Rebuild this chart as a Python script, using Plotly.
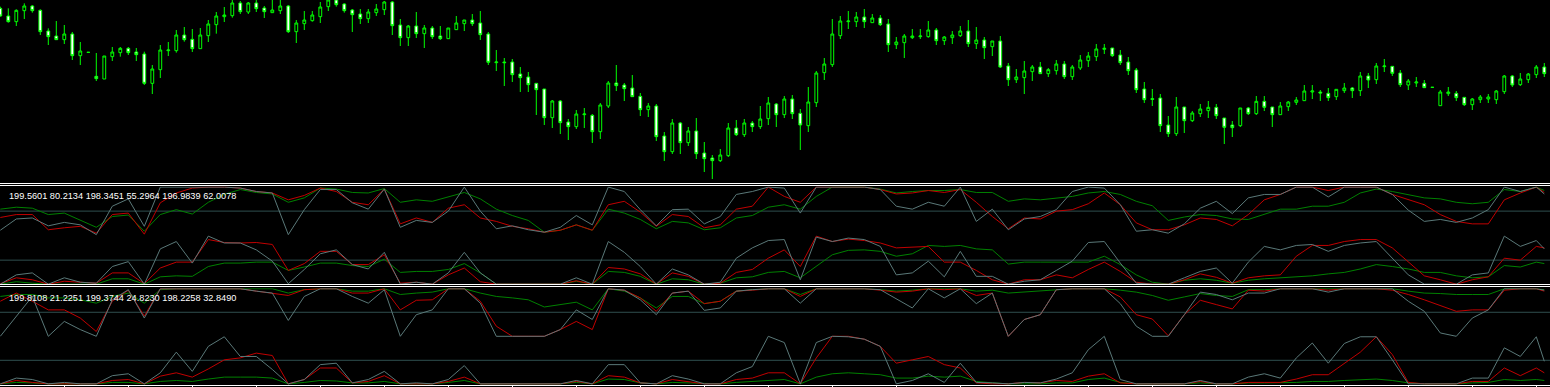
import plotly.graph_objects as go

# ---------------- main chart: candles (index -> OHLC) ----------------
candle_idx = list(range(194))
open_p = [1975,1952,1935,1968,1982,1969,1907,1892,1881,1898,
          1833,1843,1771,1763,1830,1842,1855,1844,1838,1750,
          1791,1848,1848,1895,1882,1854,1893,1926,1950,1953,
          1991,1964,1991,1976,1962,1968,1982,1905,1929,1938,
          1950,1980,2000,1988,1970,1958,1944,1962,1971,1994,
          1925,1887,1922,1899,1916,1892,1884,1911,1929,1940,
          1931,1898,1812,1814,1814,1778,1769,1750,1733,1647,
          1697,1634,1620,1656,1654,1605,1682,1751,1745,1736,
          1711,1671,1682,1592,1545,1631,1572,1607,1541,1526,
          1518,1533,1616,1596,1631,1620,1644,1688,1656,1703,
          1660,1623,1692,1782,1806,1893,1935,1935,1949,1932,
          1946,1928,1866,1872,1887,1890,1890,1910,1878,1887,
          1893,1907,1869,1880,1860,1877,1802,1761,1767,1785,
          1799,1779,1788,1808,1770,1796,1818,1830,1852,1856,
          1835,1814,1790,1733,1704,1706,1625,1599,1679,1638,
          1659,1668,1678,1646,1625,1623,1676,1659,1696,1679,
          1656,1680,1693,1698,1724,1724,1720,1710,1728,1736,
          1728,1772,1761,1800,1801,1781,1745,1751,1750,1738,
          1683,1719,1720,1708,1686,1701,1703,1701,1725,1772,
          1746,1761,1776,1799]
high_p = [1980,1975,1972,1990,1985,1972,1915,1937,1925,1904,
          1874,1844,1841,1832,1859,1859,1859,1856,1845,1805,
          1865,1874,1910,1919,1913,1916,1940,1964,1979,2000,
          1997,1994,2000,1982,2000,2000,1985,1940,1967,1967,
          1994,2000,2000,1990,1973,1973,1973,1988,1997,1997,
          1943,1925,1964,1925,1922,1922,1916,1952,1940,1958,
          1967,1904,1850,1826,1823,1799,1784,1751,1733,1700,
          1700,1643,1670,1676,1658,1691,1757,1805,1751,1775,
          1721,1691,1688,1604,1643,1634,1619,1646,1574,1535,
          1553,1631,1640,1643,1637,1682,1709,1691,1712,1715,
          1673,1739,1787,1826,1943,1952,1967,1964,1973,1958,
          1955,1943,1889,1898,1913,1913,1937,1916,1892,1907,
          1922,1940,1919,1889,1877,1892,1811,1793,1817,1805,
          1814,1796,1820,1817,1805,1835,1844,1868,1868,1856,
          1850,1829,1796,1754,1733,1718,1652,1709,1679,1667,
          1688,1697,1688,1646,1637,1676,1679,1712,1712,1679,
          1694,1697,1709,1745,1745,1730,1736,1733,1751,1739,
          1784,1781,1811,1823,1802,1790,1763,1769,1760,1738,
          1730,1739,1727,1709,1706,1715,1718,1730,1775,1775,
          1781,1781,1805,1811]
low_p = [1950,1932,1922,1943,1962,1895,1865,1880,1868,1820,
         1805,1842,1757,1763,1817,1830,1835,1817,1745,1718,
         1766,1832,1842,1875,1844,1854,1874,1899,1934,1947,
         1958,1958,1964,1946,1961,1958,1901,1871,1910,1935,
         1931,1967,1980,1962,1904,1928,1931,1952,1955,1895,
         1862,1862,1886,1856,1883,1880,1883,1910,1907,1922,
         1880,1805,1787,1742,1754,1724,1724,1655,1625,1616,
         1598,1580,1613,1616,1571,1583,1676,1727,1697,1709,
         1652,1649,1577,1517,1538,1538,1562,1523,1484,1463,
         1514,1529,1592,1589,1604,1613,1625,1619,1646,1643,
         1550,1604,1679,1760,1799,1883,1913,1919,1916,1931,
         1922,1844,1853,1826,1883,1883,1887,1865,1865,1868,
         1889,1859,1853,1823,1832,1796,1742,1751,1718,1757,
         1778,1769,1776,1763,1760,1790,1799,1817,1838,1829,
         1805,1775,1721,1691,1682,1604,1589,1592,1601,1634,
         1649,1646,1643,1568,1589,1619,1655,1655,1667,1619,
         1655,1667,1685,1697,1703,1697,1697,1700,1721,1706,
         1712,1736,1748,1784,1772,1739,1730,1739,1736,1738,
         1682,1712,1697,1682,1670,1691,1691,1688,1718,1739,
         1742,1751,1766,1769]
close_p = [1952,1935,1969,1982,1968,1905,1890,1881,1898,1833,
           1847,1843,1764,1832,1844,1855,1842,1836,1750,1793,
           1850,1850,1895,1881,1854,1895,1928,1952,1955,1991,
           1965,1991,1974,1965,1970,1982,1905,1931,1940,1955,
           1979,2000,1986,1968,1956,1944,1964,1973,1994,1923,
           1887,1922,1899,1916,1890,1884,1916,1931,1940,1929,
           1896,1813,1814,1812,1776,1767,1746,1731,1647,1697,
           1632,1620,1658,1658,1605,1685,1751,1743,1734,1710,
           1671,1682,1590,1545,1631,1572,1607,1539,1524,1518,
           1535,1616,1596,1631,1620,1643,1691,1656,1703,1659,
           1625,1694,1781,1808,1898,1937,1937,1949,1935,1946,
           1926,1866,1874,1892,1892,1892,1910,1878,1889,1895,
           1907,1869,1880,1857,1877,1799,1761,1769,1787,1799,
           1779,1791,1808,1770,1799,1820,1832,1853,1855,1833,
           1812,1788,1731,1701,1702,1623,1599,1679,1638,1661,
           1673,1678,1653,1618,1617,1676,1659,1696,1678,1656,
           1682,1694,1700,1727,1727,1721,1707,1732,1736,1728,
           1772,1760,1802,1802,1780,1746,1757,1754,1737,1738,
           1724,1724,1707,1686,1703,1709,1709,1727,1772,1745,
           1763,1778,1799,1779]

# ---------------- indicator panes (bar index -> value, 0..200 scale) ----------------
line_idx = list(range(0, 193, 2)) + [193]

p1_grey_upper = [111,134,136,120,127,122,102,160,175,119,199,199,199,199,199,197,190,187,102,153,194,194,167,154,195,
                 117,131,127,150,199,150,114,120,112,107,117,141,122,199,190,153,120,153,154,124,139,184,190,199,
                 197,146,199,199,199,199,194,160,154,168,160,199,129,154,112,134,139,153,190,199,197,163,109,112,
                 105,124,156,170,145,177,184,184,199,199,179,199,199,199,184,152,129,133,127,136,153,199,190,199,185]
p1_red_upper = [137,143,143,112,116,119,105,143,146,103,167,187,197,199,199,197,190,187,173,182,197,190,168,163,195,
                124,136,127,156,163,136,129,119,114,107,111,122,111,163,170,148,119,143,139,116,122,154,160,199,
                180,168,199,199,199,199,194,185,187,192,188,194,168,139,114,136,134,150,153,165,187,163,126,112,
                112,122,136,133,120,143,173,184,199,199,192,199,199,199,184,173,163,143,129,124,124,173,187,199,188]
p1_green_upper = [154,158,156,143,146,131,117,139,142,109,143,153,144,168,184,194,188,185,168,177,197,195,188,187,196,
                  168,173,170,179,188,175,154,141,131,107,111,122,111,154,146,133,114,129,126,112,116,136,141,158,
                  163,154,180,199,199,199,195,187,190,192,192,194,188,188,170,175,173,177,180,187,190,184,170,161,
                  131,138,143,141,134,133,143,154,154,160,160,168,187,195,190,184,177,175,168,165,168,194,190,199,192]
p1_grey_lower = [1,20,24,1,14,5,3,37,47,1,73,88,44,99,85,85,71,48,2,31,63,71,41,32,66,
                 1,5,1,24,66,24,1,1,1,1,1,14,1,88,66,37,1,32,20,1,5,54,75,90,
                 92,10,97,88,95,92,78,20,24,48,16,68,17,17,1,7,10,29,48,86,88,44,3,1,
                 1,14,27,34,3,46,78,71,80,82,68,80,85,88,54,20,1,1,1,20,24,99,78,90,73]
p1_red_lower = [2,14,10,1,7,5,3,24,24,2,34,46,46,92,86,85,86,82,29,43,68,68,41,41,61,
                3,5,1,20,34,6,1,1,1,1,1,8,1,35,32,22,1,24,17,1,3,25,31,54,
                71,37,99,88,93,90,85,75,77,78,46,46,29,10,1,10,10,20,14,31,46,27,5,1,
                1,10,22,15,3,14,18,20,58,80,80,88,92,92,75,46,18,10,1,10,16,54,50,78,75]
p1_green_lower = [1,6,3,1,1,1,1,12,12,1,16,18,17,37,44,44,46,46,29,36,44,44,39,37,52,
                  25,27,27,31,43,24,1,1,1,1,1,7,1,27,25,17,1,12,10,1,3,14,16,25,
                  27,14,37,61,70,71,68,58,63,80,78,80,73,71,42,46,46,46,46,46,58,41,20,5,
                  1,9,12,9,3,9,12,14,17,18,22,25,32,41,37,32,25,25,18,14,16,39,36,46,43]

p2_grey_upper = [100,142,183,100,131,114,100,176,197,138,199,199,199,199,199,199,194,190,133,183,199,199,183,169,197,
                 100,145,155,199,199,169,100,100,100,100,114,155,135,199,196,176,145,190,194,154,159,194,197,199,
                 199,169,199,199,199,199,197,178,159,199,180,199,168,190,100,135,145,197,199,199,199,168,121,100,
                 100,145,192,187,176,190,190,199,199,199,192,199,199,199,199,173,152,107,100,138,155,199,199,199,196]
p2_red_upper = [173,190,173,155,155,138,110,173,196,142,199,199,199,199,199,199,194,190,185,197,199,199,190,190,199,
                155,175,176,199,199,173,121,100,100,100,114,131,114,199,196,180,152,190,194,168,173,194,196,199,
                199,183,199,199,199,199,196,192,194,199,197,199,185,190,100,135,145,197,199,199,199,182,145,136,
                101,145,175,166,157,196,194,199,199,199,196,199,199,199,196,187,176,164,152,155,155,196,199,199,194]
p2_green_upper = [183,187,187,180,180,176,169,183,190,169,197,199,199,199,199,199,199,199,190,197,199,199,194,194,199,
                  187,190,192,199,199,190,183,180,176,161,166,171,155,199,194,180,159,183,183,168,173,194,197,199,
                  199,187,199,199,199,199,197,194,196,199,199,199,194,196,190,192,194,197,199,199,199,196,192,185,
                  175,182,189,185,183,197,197,199,199,199,199,199,199,199,199,194,190,189,187,187,187,199,199,199,197]
p2_grey_lower = [1,13,10,1,4,1,1,18,22,1,24,67,27,79,99,58,58,31,1,10,41,44,3,10,27,
                 1,3,1,10,39,1,1,1,1,1,1,8,1,41,41,3,1,18,11,1,1,24,37,100,
                 87,1,87,100,99,94,79,1,8,22,4,44,4,3,1,4,3,11,24,72,100,10,1,1,
                 1,1,8,1,1,15,22,13,55,86,44,85,99,99,51,1,1,1,1,13,13,76,58,99,48]
p2_red_lower = [1,8,4,1,1,1,1,8,10,1,17,24,15,32,51,55,65,60,1,10,34,34,3,6,18,
                1,1,1,6,15,1,1,1,1,1,1,6,1,18,15,3,1,10,6,1,1,10,13,24,
                24,1,55,100,100,94,79,44,51,58,41,34,3,1,1,4,3,8,6,17,22,3,1,1,
                1,1,6,1,1,4,4,4,11,20,20,44,67,99,62,4,1,1,1,6,6,34,18,34,24]
p2_green_lower = [1,4,3,1,1,1,1,4,4,1,6,8,6,11,15,15,15,13,1,4,8,7,3,3,6,
                  1,1,1,4,8,1,1,1,1,1,1,4,1,11,10,3,1,4,3,1,1,4,6,8,
                  10,1,15,22,24,22,20,13,13,17,15,17,6,3,1,1,1,3,3,10,13,4,1,1,
                  1,1,3,1,1,3,3,3,4,6,6,8,10,11,8,3,1,1,1,3,4,10,8,10,8]

levels = [150, 50]
label1 = "199.5601 80.2134 198.3451 55.2964 196.9839 62.0078"
label2 = "199.8108 21.2251 199.3744 24.8230 198.2258 32.8490"
tick_idx = list(range(8, 194, 8))

# ---------------- styles ----------------
LIME = "#00FF00"
GREY = "#5A7878"
RED = "#C00000"
GREEN = "#008000"
LEVEL = "#2F4F4F"

fig = go.Figure()
fig.add_trace(go.Candlestick(
    x=candle_idx, open=open_p, high=high_p, low=low_p, close=close_p,
    increasing=dict(line=dict(color=LIME, width=1), fillcolor="#000000"),
    decreasing=dict(line=dict(color=LIME, width=1), fillcolor="#FFFFFF"),
    whiskerwidth=0, xaxis="x", yaxis="y", showlegend=False))

for yax, series in (("y2", [(p1_green_upper, GREEN), (p1_red_upper, RED), (p1_grey_upper, GREY),
                            (p1_green_lower, GREEN), (p1_red_lower, RED), (p1_grey_lower, GREY)]),
                    ("y3", [(p2_green_upper, GREEN), (p2_red_upper, RED), (p2_grey_upper, GREY),
                            (p2_green_lower, GREEN), (p2_red_lower, RED), (p2_grey_lower, GREY)])):
    for vals, col in series:
        fig.add_trace(go.Scatter(x=line_idx, y=vals, mode="lines", xaxis="x", yaxis=yax,
                                 line=dict(color=col, width=1), showlegend=False))

H = 387.0
def py(p):
    return 1 - p / H

shapes = []
for lv in levels:
    for yr in ("y2", "y3"):
        shapes.append(dict(type="line", xref="paper", x0=0, x1=1, yref=yr, y0=lv, y1=lv,
                           line=dict(color=LEVEL, width=1), layer="below"))
for sep in (183.5, 185.5, 284.5, 286.5):
    shapes.append(dict(type="line", xref="paper", x0=0, x1=1, yref="paper", y0=py(sep), y1=py(sep),
                       line=dict(color="#FFFFFF", width=1)))

hidden = dict(showgrid=False, zeroline=False, showticklabels=False, showline=False, ticks="")
fig.update_layout(
    width=1550, height=387, margin=dict(l=0, r=0, t=0, b=0),
    paper_bgcolor="#000000", plot_bgcolor="#000000", showlegend=False,
    boxgap=0.5, hovermode=False,
    xaxis=dict(range=[-0.0375, 193.7125], anchor="y3", showgrid=False, zeroline=False,
               showticklabels=False, rangeslider=dict(visible=False),
               tickvals=tick_idx, ticks="outside", ticklen=3, tickcolor="#FFFFFF", tickwidth=1,
               showline=True, linecolor="#FFFFFF", linewidth=1),
    yaxis=dict(domain=[py(183), 1], range=[1451, 2000], anchor="x", **hidden),
    yaxis2=dict(domain=[py(284.67), py(186.6)], range=[0, 200], anchor="x", **hidden),
    yaxis3=dict(domain=[py(385.29), py(288.27)], range=[-2, 200], anchor="x", **hidden),
    shapes=shapes,
    annotations=[
        dict(text=label1, xref="paper", yref="paper", x=7 / 1550, y=py(195.7), xanchor="left",
             yanchor="middle", showarrow=False, font=dict(family="Liberation Sans, Arial", size=9.2, color="#FFFFFF")),
        dict(text=label2, xref="paper", yref="paper", x=7 / 1550, y=py(297.7), xanchor="left",
             yanchor="middle", showarrow=False, font=dict(family="Liberation Sans, Arial", size=9.2, color="#FFFFFF")),
    ],
)

fig.write_html("out.html", config={"displayModeBar": False})
